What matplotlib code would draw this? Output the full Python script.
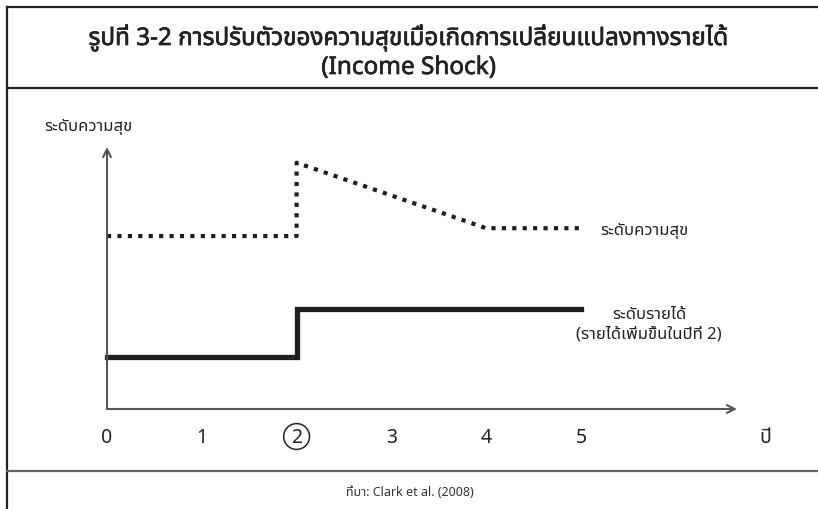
import matplotlib
matplotlib.use("Agg")
import matplotlib.pyplot as plt
import matplotlib.patheffects as pe
from matplotlib import font_manager
from matplotlib.ft2font import FT2Font
from matplotlib.lines import Line2D

# pick an installed family that really has Thai glyphs
def thai_family():
    found = []
    for f in font_manager.fontManager.ttflist:
        try:
            cmap = FT2Font(f.fname).get_charmap()
        except Exception:
            continue
        if 0x0E01 in cmap and 0x0E38 in cmap:
            found.append(f.name)
    for pref in ["Noto Sans Thai", "Noto Sans Thai Looped", "Noto Sans", "Noto Sans CJK SC", "DejaVu Sans"]:
        if pref in found:
            return pref
    return found[0] if found else "DejaVu Sans"

FAM = thai_family()
plt.rcParams['font.family'] = [FAM, 'DejaVu Sans']

### DATA
title_1 = "รูปที่ 3-2 การปรับตัวของความสุขเมื่อเกิดการเปลี่ยนแปลงทางรายได้"
title_2 = "(Income Shock)"
y_label = "ระดับความสุข"
x_label = "ปี"
source = "ที่มา: Clark et al. (2008)"

years = [0, 1, 2, 3, 4, 5]
shock_year = 2

happy_x = [0, 2, 2, 4, 5]
happy_y = [6.6, 6.6, 9.4, 6.9, 6.9]
happy_label = "ระดับความสุข"

income_x = [0, 2, 2, 5]
income_y = [2.0, 2.0, 3.8, 3.8]
income_label = "ระดับรายได้\n(รายได้เพิ่มขึ้นในปีที่ 2)"

### FIGURE
W, H = 818, 510
fig = plt.figure(figsize=(W / 100, H / 100), dpi=100)

def px(x, y):
    return x / W, 1 - y / H

# frame lines (figure pixels)
frame = [((7, 8), (818, 8), "#222222"),
         ((7, 8), (7, 510), "#222222"),
         ((7, 89), (818, 89), "#222222"),
         ((7, 472), (818, 472), "#666666")]
for (a, b, c) in frame:
    xa, ya = px(*a)
    xb, yb = px(*b)
    fig.add_artist(Line2D([xa, xb], [ya, yb], color=c, lw=1.6))

bold = [pe.withStroke(linewidth=0.5, foreground="#222222")]
fig.text(0.5, 1 - 39 / H, title_1, ha="center", va="center", fontsize=17.5, fontweight="bold",
         color="#222222", path_effects=bold)
fig.text(0.5, 1 - 69 / H, title_2, ha="center", va="center", fontsize=17.5, fontweight="bold",
         color="#222222", path_effects=bold)
fig.text(410 / W, 1 - 493 / H, source, ha="center", va="center", fontsize=9, color="#333333")

# axes: year 0 at x=107px, year 5 at x=581px; y 0..10 from 410px to 148px
ux = (581 - 107) / 5
xmax = (737 - 107) / ux
ax = fig.add_axes([107 / W, (H - 410) / H, (737 - 107) / W, (410 - 148) / H])
ax.set_xlim(0, xmax)
ax.set_ylim(0, 10)
ax.axis("off")

axis_col = "#555555"
ax.annotate("", xy=(xmax, 0), xytext=(0, 0), annotation_clip=False,
            arrowprops=dict(arrowstyle="->", color=axis_col, lw=1.5, shrinkA=0, shrinkB=0,
                            mutation_scale=14))
ax.annotate("", xy=(0, 10), xytext=(0, 0), annotation_clip=False,
            arrowprops=dict(arrowstyle="->", color=axis_col, lw=1.5, shrinkA=0, shrinkB=0,
                            mutation_scale=14))

ax.plot(happy_x, happy_y, color="#1e1e1e", lw=3.0, linestyle=(0, (1.0, 1.5)),
        solid_capstyle="butt", dash_capstyle="butt", clip_on=False)
ax.plot(income_x, income_y, color="#1e1e1e", lw=3.8, solid_joinstyle="miter", clip_on=False)

ax.text(5.2, happy_y[-1] - 0.05, happy_label, ha="left", va="center", fontsize=12, color="#222222")
ax.text(5.72, income_y[-1] - 0.55, income_label, ha="center", va="center", fontsize=12,
        color="#222222", linespacing=1.25)

ty = -1.05
for yr in years:
    if yr == shock_year:
        ax.text(yr, ty, str(yr), ha="center", va="center", fontsize=14, color="#222222",
                bbox=dict(boxstyle="circle,pad=0.15", fc="none", ec="#222222", lw=1.1))
    else:
        ax.text(yr, ty, str(yr), ha="center", va="center", fontsize=14, color="#222222")
ax.text((765 - 107) / ux, ty, x_label, ha="center", va="center", fontsize=14, color="#222222")
ax.text(-0.2, 10.8, y_label, ha="center", va="center", fontsize=12, color="#222222")

fig.savefig("out.png", dpi=100)
